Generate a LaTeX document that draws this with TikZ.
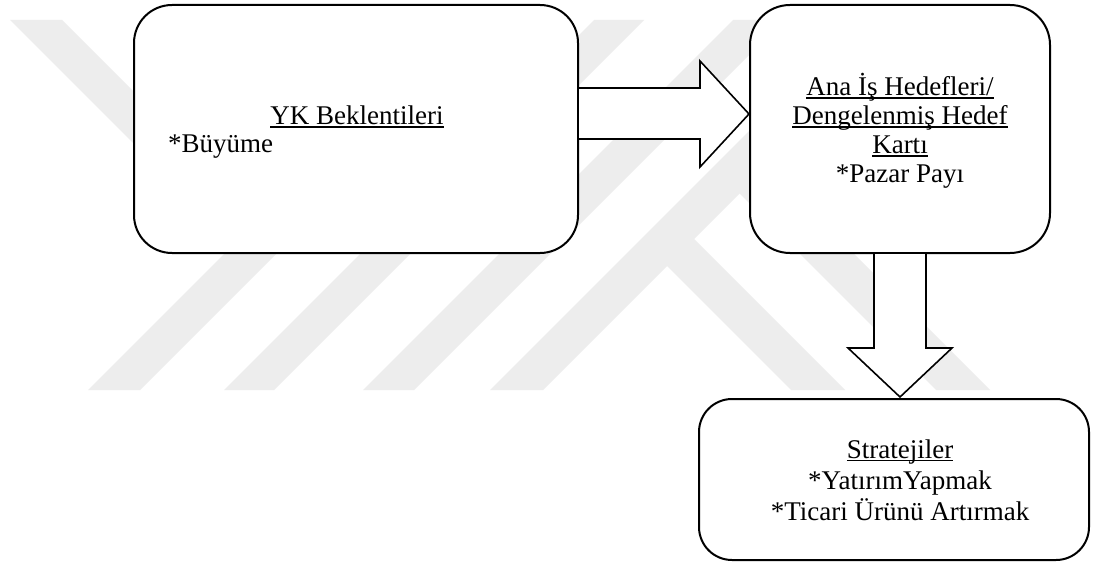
\documentclass[tikz,border=0pt]{standalone}
\usepackage{fontspec}
\setmainfont{Liberation Serif}
\usetikzlibrary{calc}
% underline at a fixed depth below the baseline, as a word processor sets it
\newcommand{\undl}[1]{{\setbox0\hbox{#1}\rlap{\rule[-3.2pt]{\wd0}{1.4pt}}\box0}}
\begin{document}
\begin{tikzpicture}[x=1pt,y=-1pt,
  box/.style={draw=black, line width=2pt, fill=white, inner sep=0pt},
  txt/.style={inner sep=0pt, font=\fontsize{27pt}{29pt}\selectfont},
  blockarrow/.style={draw=black, fill=white, line width=1.6pt, line join=miter},
  wmark/.style={fill=black!7}]

\useasboundingbox (0,0) rectangle (1094,564);
\fill[white] (0,0) rectangle (1094,564);

% faint striped emblem in the background
\begin{scope}
  \clip (0,20) rectangle (1094,390);
  \fill[wmark] (10,20) -- (62,20) -- (292,250) -- (240,250) -- cycle;
  \fill[wmark] (88,390) -- (140,390) -- (380,150) -- (328,150) -- cycle;
  \fill[wmark] (224,390) -- (274,390) -- (644,20) -- (594,20) -- cycle;
  \fill[wmark] (363,390) -- (414,390) -- (784,20) -- (733,20) -- cycle;
  \fill[wmark] (490,390) -- (543,390) -- (913,20) -- (860,20) -- cycle;
  \fill[wmark] (791,390) -- (845,390) -- (679,224) -- (652,251) -- cycle;
  \fill[wmark] (936,390) -- (990,390) -- (751.5,151.5) -- (724.5,178.5) -- cycle;
\end{scope}

% boxes
\node[box, rounded corners=38pt, minimum width=444pt, minimum height=248pt] (b1) at (356,129) {};
\node[box, rounded corners=40pt, minimum width=300pt, minimum height=248pt] (b2) at (900,129) {};
\node[box, rounded corners=33pt, minimum width=390pt, minimum height=161pt] (b3) at (894,479.5) {};

% block arrows
\filldraw[blockarrow] ($(b1.east)+(0,-41)$) -- (700,88) -- (700,61)
  -- ($(b2.west)+(0,-15)$) -- (700,167) -- (700,139) -- ($(b1.east)+(0,10)$);
\filldraw[blockarrow] ($(b2.south)+(-26,0)$) -- (874,348) -- (848,348)
  -- ($(b3.north)+(6,-1)$) -- (952,348) -- (926,348) -- ($(b2.south)+(26,0)$);

% texts
\node[txt, anchor=base] (t1a) at (357,124.5) {\undl{YK Beklentileri}};
\node[txt, anchor=base west] (t1b) at (168,153) {*Büyüme};

\node[txt, anchor=base] (t2a) at (900,95.5) {\undl{Ana İş Hedefleri/}};
\node[txt, anchor=base] (t2b) at (900,124.5) {\undl{Dengelenmiş Hedef}};
\node[txt, anchor=base] (t2c) at (900,153.5) {\undl{Kartı}};
\node[txt, anchor=base] (t2d) at (900,182.5) {*Pazar Payı};

\node[txt, anchor=base] (t3a) at (900,458) {\undl{Stratejiler}};
\node[txt, anchor=base] (t3b) at (900,489) {*YatırımYapmak};
\node[txt, anchor=base] (t3c) at (900,520) {*Ticari Ürünü Artırmak};
\end{tikzpicture}
\end{document}
